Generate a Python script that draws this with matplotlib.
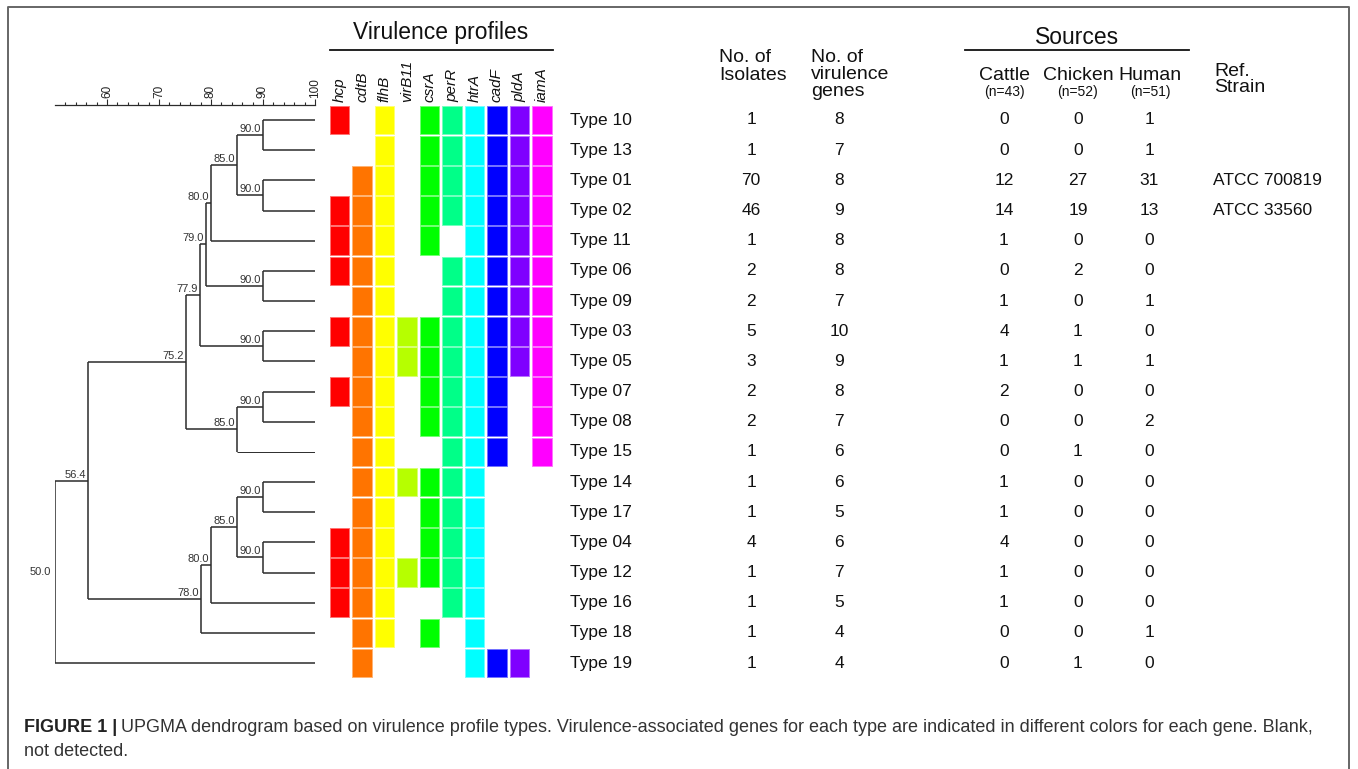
import numpy as np
from matplotlib import pyplot as plt
from matplotlib.ticker import FixedLocator
from matplotlib.colors import to_rgb

W, H = 1358, 769
DPI = 100

plt.rcParams['font.family'] = ['Liberation Sans', 'DejaVu Sans']

TYPES = ['Type 10', 'Type 13', 'Type 01', 'Type 02', 'Type 11', 'Type 06', 'Type 09',
         'Type 03', 'Type 05', 'Type 07', 'Type 08', 'Type 15', 'Type 14', 'Type 17',
         'Type 04', 'Type 12', 'Type 16', 'Type 18', 'Type 19']
GENES = ['hcp', 'cdtB', 'flhB', 'virB11', 'csrA', 'perR', 'htrA', 'cadF', 'pldA', 'iamA']
GENE_COLORS = ['#ff0000', '#ff7400', '#ffff00', '#b6ff00', '#00ff00',
               '#00ff88', '#00ffff', '#0000ff', '#7f00ff', '#ff00ff']
# 1 = detected, 0 = blank
PROFILE = [
    [1, 0, 1, 0, 1, 1, 1, 1, 1, 1],
    [0, 0, 1, 0, 1, 1, 1, 1, 1, 1],
    [0, 1, 1, 0, 1, 1, 1, 1, 1, 1],
    [1, 1, 1, 0, 1, 1, 1, 1, 1, 1],
    [1, 1, 1, 0, 1, 0, 1, 1, 1, 1],
    [1, 1, 1, 0, 0, 1, 1, 1, 1, 1],
    [0, 1, 1, 0, 0, 1, 1, 1, 1, 1],
    [1, 1, 1, 1, 1, 1, 1, 1, 1, 1],
    [0, 1, 1, 1, 1, 1, 1, 1, 1, 1],
    [1, 1, 1, 0, 1, 1, 1, 1, 0, 1],
    [0, 1, 1, 0, 1, 1, 1, 1, 0, 1],
    [0, 1, 1, 0, 0, 1, 1, 1, 0, 1],
    [0, 1, 1, 1, 1, 1, 1, 0, 0, 0],
    [0, 1, 1, 0, 1, 1, 1, 0, 0, 0],
    [1, 1, 1, 0, 1, 1, 1, 0, 0, 0],
    [1, 1, 1, 1, 1, 1, 1, 0, 0, 0],
    [1, 1, 1, 0, 0, 1, 1, 0, 0, 0],
    [0, 1, 1, 0, 1, 0, 1, 0, 0, 0],
    [0, 1, 0, 0, 0, 0, 1, 1, 1, 0],
]
N_ISOLATES = [1, 1, 70, 46, 1, 2, 2, 5, 3, 2, 2, 1, 1, 1, 4, 1, 1, 1, 1]
N_GENES = [8, 7, 8, 9, 8, 8, 7, 10, 9, 8, 7, 6, 6, 5, 6, 7, 5, 4, 4]
CATTLE = [0, 0, 12, 14, 1, 0, 1, 4, 1, 2, 0, 0, 1, 1, 4, 1, 1, 0, 0]
CHICKEN = [0, 0, 27, 19, 0, 2, 0, 1, 1, 0, 0, 1, 0, 0, 0, 0, 0, 0, 1]
HUMAN = [1, 1, 31, 13, 0, 0, 1, 0, 1, 0, 2, 0, 0, 0, 0, 0, 0, 1, 0]
REF_STRAIN = ['', '', 'ATCC 700819', 'ATCC 33560'] + [''] * 15
SOURCES = ['Cattle', 'Chicken', 'Human']
SOURCE_N = ['(n=43)', '(n=52)', '(n=51)']

# UPGMA merges (child, child, similarity %); leaves are 0..18, merge k makes node 19+k
MERGES = [(0, 1, 90.0), (2, 3, 90.0), (19, 20, 85.0), (21, 4, 80.0), (5, 6, 90.0),
          (22, 23, 79.0), (7, 8, 90.0), (24, 25, 77.9), (9, 10, 90.0), (27, 11, 85.0),
          (26, 28, 75.2), (12, 13, 90.0), (14, 15, 90.0), (30, 31, 85.0), (32, 16, 80.0),
          (33, 17, 78.0), (29, 34, 56.4), (35, 18, 50.0)]

SCALE_MAJOR = [60, 70, 80, 90, 100]
SCALE_MINOR = [v for v in range(52, 100, 2) if v not in SCALE_MAJOR]

LINE_C = '#2b2b2b'
TXT_C = '#111111'

# rows: centre of first row at y=120px, pitch 30.17px
ROW0, PITCH = 120.0, 30.17
n = len(TYPES)
top_px = ROW0 - 0.5 * PITCH
bot_px = ROW0 + (n - 0.5) * PITCH


def fig_box(x0, x1):
    return [x0 / W, 1 - bot_px / H, (x1 - x0) / W, (bot_px - top_px) / H]


fig = plt.figure(figsize=(W / DPI, H / DPI), dpi=DPI)

# layout layer in pixel coords (headers, caption, frame)
lay = fig.add_axes([0, 0, 1, 1], zorder=0)
lay.set_xlim(0, W)
lay.set_ylim(H, 0)
lay.axis('off')

# ---------- dendrogram ----------
ax_d = fig.add_axes(fig_box(55, 315), zorder=2)
ax_d.patch.set_alpha(0)
ax_d.set_xlim(50, 100)
ax_d.set_ylim(n - 0.5, -0.5)

pos = {i: (100.0, float(i)) for i in range(n)}
for k, (a, b, sim) in enumerate(MERGES):
    xa, ya = pos[a]
    xb, yb = pos[b]
    lw_b = 0.7 if b == 11 else 1.1
    ax_d.plot([sim, xa], [ya, ya], color=LINE_C, lw=1.1, solid_capstyle='butt')
    ax_d.plot([sim, xb], [yb, yb], color=LINE_C, lw=lw_b, solid_capstyle='butt')
    ax_d.plot([sim, sim], [ya, yb], color=LINE_C, lw=1.1, solid_capstyle='butt')
    ym = (ya + yb) / 2
    pos[19 + k] = (sim, ym)
    if k == len(MERGES) - 1:
        ax_d.annotate(f'{sim:.1f}', (sim, ym), xytext=(-3, 0), textcoords='offset points',
                      ha='right', va='center', fontsize=8, color='#333333')
    else:
        ax_d.annotate(f'{sim:.1f}', (sim, ym), xytext=(-1.5, 0.8), textcoords='offset points',
                      ha='right', va='bottom', fontsize=8, color='#333333')

ax_d.xaxis.tick_top()
ax_d.xaxis.set_major_locator(FixedLocator(SCALE_MAJOR))
ax_d.xaxis.set_minor_locator(FixedLocator(SCALE_MINOR))
ax_d.set_xticklabels([str(v) for v in SCALE_MAJOR])
ax_d.tick_params(axis='x', which='major', direction='out', length=4, width=0.8,
                 color=LINE_C, labelsize=8.5, labelrotation=90, pad=1, labelcolor='#222222')
ax_d.tick_params(axis='x', which='minor', direction='out', length=2.5, width=0.8, color=LINE_C)
ax_d.set_yticks([])
for s in ['left', 'right', 'bottom']:
    ax_d.spines[s].set_visible(False)
ax_d.spines['top'].set_color(LINE_C)
ax_d.spines['top'].set_linewidth(0.9)

# ---------- virulence heatmap ----------
ax_h = fig.add_axes(fig_box(328.3, 553.2), zorder=2)
ax_h.patch.set_alpha(0)
ax_h.set_xlim(-0.5, len(GENES) - 0.5)
ax_h.set_ylim(n - 0.5, -0.5)
ax_h.axis('off')
prof = np.array(PROFILE)
for j, (gene, col) in enumerate(zip(GENES, GENE_COLORS)):
    rows = np.where(prof[:, j] == 1)[0]
    edge = tuple(0.55 * np.array(to_rgb(col)) + 0.45)
    ax_h.bar(np.full(len(rows), j), 0.95, bottom=rows - 0.475, width=0.87,
             color=col, edgecolor=edge, linewidth=0.7)
    ax_h.text(j, -0.6, gene, rotation=90, ha='center', va='bottom', style='italic',
              fontsize=11, color=TXT_C)

# ---------- table ----------
ax_t = fig.add_axes(fig_box(0, W), zorder=1)
ax_t.patch.set_alpha(0)
ax_t.set_xlim(0, W)
ax_t.set_ylim(n - 0.5, -0.5)
ax_t.axis('off')
FS = 12.5
for i in range(n):
    ax_t.text(570, i, TYPES[i], ha='left', va='center', fontsize=FS, color=TXT_C)
    ax_t.text(751, i, str(N_ISOLATES[i]), ha='center', va='center', fontsize=FS, color=TXT_C)
    ax_t.text(839, i, str(N_GENES[i]), ha='center', va='center', fontsize=FS, color=TXT_C)
    for x, vals in zip([1004, 1078, 1149], [CATTLE, CHICKEN, HUMAN]):
        ax_t.text(x, i, str(vals[i]), ha='center', va='center', fontsize=FS, color=TXT_C)
    if REF_STRAIN[i]:
        ax_t.text(1213, i, REF_STRAIN[i], ha='left', va='center', fontsize=FS, color=TXT_C)

# ---------- headers ----------
HFS = 14
lay.text(441, 33, 'Virulence profiles', ha='center', va='center', fontsize=16.5, color=TXT_C)
lay.plot([330, 553], [50, 50], color=TXT_C, lw=1.3)
lay.text(1077, 38, 'Sources', ha='center', va='center', fontsize=16.5, color=TXT_C)
lay.plot([965, 1189], [50, 50], color=TXT_C, lw=1.3)

lay.text(719, 58, 'No. of', ha='left', va='center', fontsize=HFS, color=TXT_C)
lay.text(719, 75, 'Isolates', ha='left', va='center', fontsize=HFS, color=TXT_C)
lay.text(811, 58, 'No. of', ha='left', va='center', fontsize=HFS, color=TXT_C)
lay.text(811, 74.5, 'virulence', ha='left', va='center', fontsize=HFS, color=TXT_C)
lay.text(811, 91, 'genes', ha='left', va='center', fontsize=HFS, color=TXT_C)
lay.text(1214, 71, 'Ref.', ha='left', va='center', fontsize=HFS, color=TXT_C)
lay.text(1214, 88, 'Strain', ha='left', va='center', fontsize=HFS, color=TXT_C)
for x, src, nn in zip([1004, 1078, 1150], SOURCES, SOURCE_N):
    lay.text(x, 76, src, ha='center', va='center', fontsize=HFS, color=TXT_C)
    lay.text(x, 92, nn, ha='center', va='center', fontsize=10, color=TXT_C)

# ---------- frame + caption ----------
lay.plot([8, 8, 1349, 1349], [H + 5, 7, 7, H + 5], color='#666666', lw=1.4)

CFS = 13
t1 = lay.text(24, 728, 'FIGURE 1 |', ha='left', va='center', fontsize=CFS,
              fontweight='bold', color='#222222')
r = fig.canvas.get_renderer()
bb = t1.get_window_extent(renderer=r)
lay.text(bb.x1 + 4, 728,
         'UPGMA dendrogram based on virulence profile types. Virulence-associated genes for '
         'each type are indicated in different colors for each gene. Blank,',
         ha='left', va='center', fontsize=CFS, color='#333333')
lay.text(24, 752, 'not detected.', ha='left', va='center', fontsize=CFS, color='#333333')

fig.savefig('out.png', dpi=DPI)
